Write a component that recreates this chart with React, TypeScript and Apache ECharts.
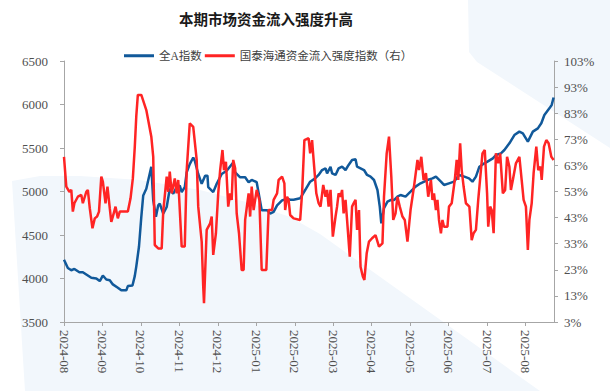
import React, { useEffect, useRef } from 'react';
import * as echarts from 'echarts';

const TITLE = '本期市场资金流入强度升高';
const SERIES_NAMES = ['全A指数', '国泰海通资金流入强度指数（右）'];
const TICK_LABELS = [
  '2024-08', '2024-09', '2024-10', '2024-11', '2024-12', '2025-01', '2025-02',
  '2025-03', '2025-04', '2025-05', '2025-06', '2025-07', '2025-08',
];
// x position measured in months since 2024-08 label
const X_MAX = 12.74;

// 全A指数 (left axis): [month position, value]
const BLUE_POINTS: [number, number][] = [
  [0, 4216], [0.10, 4121], [0.19, 4095], [0.27, 4110], [0.40, 4072], [0.49, 4072], [0.71, 4008], [0.84, 4000],
  [0.93, 3970], [1.01, 4034], [1.10, 3989], [1.19, 3981], [1.27, 3932], [1.40, 3894], [1.49, 3864], [1.62, 3864],
  [1.66, 3913], [1.78, 3920], [1.84, 4027], [1.88, 4140], [1.95, 4368], [2.01, 4709], [2.06, 4955], [2.14, 5031],
  [2.27, 5285], [2.32, 4898], [2.39, 4709], [2.45, 4841], [2.49, 4860], [2.58, 4746], [2.67, 4822], [2.75, 5031],
  [2.84, 4974], [2.93, 5050], [3.01, 5069], [3.06, 4993], [3.14, 5050], [3.19, 5220], [3.27, 5315], [3.36, 5391],
  [3.40, 5353], [3.49, 5201], [3.58, 5088], [3.67, 5182], [3.73, 5182], [3.75, 5050], [3.88, 4993], [3.97, 5088],
  [4.10, 5201], [4.23, 5239], [4.40, 5334], [4.45, 5220], [4.58, 5163], [4.71, 5163], [4.80, 5107], [4.88, 5133],
  [5.01, 5107], [5.14, 4785], [5.28, 4785], [5.36, 4747], [5.45, 4766], [5.54, 4841], [5.67, 4898], [5.80, 4917],
  [5.88, 4906], [5.97, 4906], [6.14, 4922], [6.27, 5017], [6.40, 5113], [6.53, 5151], [6.62, 5190], [6.71, 5247],
  [6.80, 5266], [6.84, 5209], [6.93, 5285], [6.97, 5209], [7.06, 5190], [7.14, 5266], [7.23, 5285], [7.32, 5247],
  [7.40, 5305], [7.49, 5362], [7.58, 5370], [7.62, 5285], [7.71, 5266], [7.80, 5247], [7.88, 5190], [7.97, 5171],
  [8.06, 5132], [8.15, 5017], [8.21, 4826], [8.25, 4634], [8.32, 4807], [8.41, 4883], [8.49, 4902], [8.58, 4902],
  [8.67, 4941], [8.75, 4960], [8.88, 4941], [9.01, 4998], [9.14, 5056], [9.27, 5094], [9.45, 5132], [9.58, 5151],
  [9.67, 5171], [9.80, 5113], [9.88, 5075], [10.01, 5094], [10.14, 5113], [10.27, 5190], [10.41, 5171], [10.53, 5151],
  [10.62, 5113], [10.71, 5171], [10.80, 5285], [10.93, 5324], [11.01, 5343], [11.15, 5381], [11.23, 5419], [11.36, 5439],
  [11.45, 5477], [11.58, 5554], [11.71, 5649], [11.84, 5688], [11.93, 5669], [12.06, 5573], [12.19, 5688], [12.32, 5726],
  [12.41, 5784], [12.49, 5879], [12.62, 5956], [12.68, 5995], [12.73, 6080],
];

// 国泰海通资金流入强度指数 (right axis, %): [month position, value]
const RED_POINTS: [number, number][] = [
  [0, 66.3], [0.06, 54.9], [0.14, 52.9], [0.19, 53.6], [0.23, 45.3], [0.27, 48.5], [0.36, 51.0], [0.45, 51.7],
  [0.49, 48.5], [0.58, 52.9], [0.62, 53.6], [0.67, 46.6], [0.74, 38.9], [0.80, 42.7], [0.86, 43.4], [0.91, 45.3],
  [0.97, 58.7], [1.01, 56.8], [1.08, 48.5], [1.13, 54.9], [1.19, 46.6], [1.23, 41.4], [1.27, 43.4], [1.34, 47.2],
  [1.40, 42.7], [1.45, 45.3], [1.53, 45.3], [1.66, 45.3], [1.73, 50.4], [1.79, 58.0], [1.84, 70.0], [1.88, 82.0],
  [1.92, 90.0], [2.01, 90.0], [2.14, 84.2], [2.27, 74.0], [2.32, 66.3], [2.36, 32.5], [2.45, 31.2], [2.54, 31.2],
  [2.58, 45.3], [2.67, 58.7], [2.71, 52.9], [2.75, 60.6], [2.80, 52.3], [2.88, 58.0], [2.93, 52.3], [2.97, 57.4],
  [3.06, 31.9], [3.14, 31.9], [3.19, 61.2], [3.27, 79.1], [3.36, 77.8], [3.45, 65.1], [3.49, 47.2], [3.58, 33.8],
  [3.62, 16.5], [3.64, 10.2], [3.71, 38.3], [3.80, 40.8], [3.84, 43.4], [3.88, 28.7], [3.95, 37.0], [4.01, 52.3],
  [4.06, 61.2], [4.12, 68.9], [4.16, 61.2], [4.21, 64.4], [4.27, 47.2], [4.32, 52.3], [4.36, 49.8], [4.40, 65.1],
  [4.45, 61.9], [4.49, 44.6], [4.55, 37.0], [4.62, 22.9], [4.67, 22.9], [4.71, 42.1], [4.75, 46.6], [4.80, 52.3],
  [4.84, 43.4], [4.88, 54.9], [4.93, 45.9], [5.01, 53.6], [5.08, 49.8], [5.14, 22.9], [5.26, 22.9], [5.32, 45.9],
  [5.41, 45.9], [5.45, 49.8], [5.54, 52.3], [5.58, 57.4], [5.67, 58.7], [5.73, 56.1], [5.75, 45.9], [5.80, 51.0],
  [5.84, 49.8], [5.88, 44.0], [5.97, 42.7], [6.14, 42.1], [6.19, 52.3], [6.25, 72.7], [6.36, 73.4], [6.40, 67.6],
  [6.45, 72.7], [6.49, 65.1], [6.56, 52.3], [6.62, 48.5], [6.67, 47.2], [6.74, 55.5], [6.80, 51.0], [6.84, 53.6],
  [6.88, 47.2], [6.93, 53.6], [6.99, 35.7], [7.06, 43.4], [7.10, 47.2], [7.14, 52.3], [7.19, 51.0], [7.23, 53.6],
  [7.27, 44.6], [7.32, 49.8], [7.36, 42.1], [7.43, 28.0], [7.49, 47.2], [7.53, 48.5], [7.58, 49.8], [7.62, 38.3],
  [7.67, 45.9], [7.71, 24.2], [7.77, 20.4], [7.81, 19.1], [7.87, 29.3], [7.93, 33.8], [8.01, 35.1], [8.10, 36.3],
  [8.19, 31.9], [8.28, 33.1], [8.32, 51.0], [8.39, 67.6], [8.45, 74.0], [8.51, 58.7], [8.56, 42.1], [8.62, 44.6],
  [8.67, 51.0], [8.73, 47.2], [8.80, 43.4], [8.86, 42.1], [8.93, 33.8], [9.01, 45.9], [9.10, 54.9], [9.19, 65.1],
  [9.23, 61.2], [9.29, 66.3], [9.35, 57.4], [9.41, 60.0], [9.47, 51.0], [9.54, 57.4], [9.58, 49.8], [9.62, 52.3],
  [9.67, 45.9], [9.71, 49.8], [9.75, 42.1], [9.80, 37.0], [9.84, 42.1], [9.88, 39.5], [9.97, 39.5], [10.01, 47.2],
  [10.08, 48.5], [10.16, 57.4], [10.21, 65.1], [10.25, 57.4], [10.30, 71.5], [10.34, 61.2], [10.39, 54.9], [10.45, 48.5],
  [10.54, 47.2], [10.60, 34.4], [10.65, 37.0], [10.71, 38.3], [10.77, 49.8], [10.84, 61.2], [10.88, 67.6], [10.94, 68.9],
  [11.00, 52.3], [11.03, 39.5], [11.08, 47.2], [11.12, 45.9], [11.17, 37.0], [11.23, 67.6], [11.29, 63.8], [11.34, 67.6],
  [11.41, 52.3], [11.47, 53.6], [11.52, 66.3], [11.58, 62.5], [11.62, 53.6], [11.67, 57.4], [11.75, 63.8], [11.84, 66.3],
  [11.90, 57.4], [11.95, 49.8], [12.01, 47.2], [12.06, 30.6], [12.10, 42.1], [12.16, 48.5], [12.21, 60.0], [12.28, 70.2],
  [12.33, 61.2], [12.39, 62.5], [12.42, 57.4], [12.48, 70.2], [12.54, 72.7], [12.60, 71.5], [12.67, 66.3], [12.73, 65.1],
];

const SERIF = "'Liberation Serif', 'Noto Sans CJK SC', serif";
const SANS_CJK = "'Noto Sans CJK SC', sans-serif";
const LABEL_COLOR = '#505050';
const AXIS_COLOR = '#a6a6a6';
const BG_TINT = '#f2f7fc';

export default function App() {
  const ref = useRef<HTMLDivElement>(null);

  useEffect(() => {
    if (!ref.current) return;
    const chart = echarts.init(ref.current, null, { renderer: 'svg' });
    chart.setOption({
      animation: false,
      backgroundColor: '#ffffff',
      graphic: [
        {
          type: 'polygon',
          z: -10,
          silent: true,
          shape: {
            points: [
              [12, 181], [40, 176], [80, 176], [140, 180], [200, 190], [250, 203],
              [290, 217], [320, 234], [540, 391], [25, 391],
            ],
          },
          style: { fill: BG_TINT },
        },
        {
          type: 'polygon',
          z: -10,
          silent: true,
          shape: {
            points: [[468, 0], [469, 52], [477, 62], [610, 148], [610, 0]],
          },
          style: { fill: BG_TINT },
        },
      ],
      title: {
        text: TITLE,
        left: 174,
        top: 6,
        textStyle: {
          fontSize: 14.5,
          fontWeight: 'bold',
          color: '#1a1a1a',
          fontFamily: SANS_CJK,
        },
      },
      legend: {
        left: 119,
        top: 45,
        itemWidth: 30,
        itemHeight: 3,
        itemGap: 3,
        icon: 'rect',
        data: SERIES_NAMES,
        textStyle: {
          fontSize: 11.5,
          color: '#404040',
          fontFamily: SERIF,
        },
      },
      grid: { left: 64, right: 56, top: 61, bottom: 69 },
      xAxis: {
        type: 'value',
        min: 0,
        max: X_MAX,
        interval: 1,
        axisLine: { show: true, lineStyle: { color: AXIS_COLOR } },
        axisTick: { show: true, length: 4, lineStyle: { color: AXIS_COLOR } },
        splitLine: { show: false },
        axisLabel: {
          rotate: -90,
          margin: 8,
          color: LABEL_COLOR,
          fontSize: 13,
          fontFamily: SERIF,
          showMaxLabel: false,
          formatter: (v: number) => {
            const i = Math.round(v);
            return Math.abs(v - i) < 1e-6 && TICK_LABELS[i] ? TICK_LABELS[i] : '';
          },
        },
      },
      yAxis: [
        {
          type: 'value',
          min: 3500,
          max: 6500,
          interval: 500,
          axisLine: { show: true, lineStyle: { color: AXIS_COLOR } },
          axisTick: { show: true, length: 4, lineStyle: { color: AXIS_COLOR } },
          splitLine: { show: false },
          axisLabel: {
            margin: 16,
            color: LABEL_COLOR,
            fontSize: 13,
            fontFamily: SERIF,
            formatter: (v: number) => String(v),
          },
        },
        {
          type: 'value',
          position: 'right',
          min: 3,
          max: 103,
          interval: 10,
          axisLine: { show: true, lineStyle: { color: AXIS_COLOR } },
          axisTick: { show: true, length: 4, lineStyle: { color: AXIS_COLOR } },
          splitLine: { show: false },
          axisLabel: {
            margin: 10,
            color: LABEL_COLOR,
            fontSize: 13,
            fontFamily: SERIF,
            formatter: (v: number) => `${v}%`,
          },
        },
      ],
      series: [
        {
          name: SERIES_NAMES[0],
          type: 'line',
          yAxisIndex: 0,
          data: BLUE_POINTS,
          showSymbol: false,
          lineStyle: { color: '#11599a', width: 2.5 },
          itemStyle: { color: '#11599a' },
        },
        {
          name: SERIES_NAMES[1],
          type: 'line',
          yAxisIndex: 1,
          data: RED_POINTS,
          showSymbol: false,
          lineStyle: { color: '#ff2424', width: 2.5 },
          itemStyle: { color: '#ff2424' },
        },
      ],
    });
    return () => chart.dispose();
  }, []);

  return (
    <div
      ref={ref}
      style={{ position: 'fixed', left: 0, top: 0, width: 610, height: 391, background: '#ffffff' }}
    />
  );
}
